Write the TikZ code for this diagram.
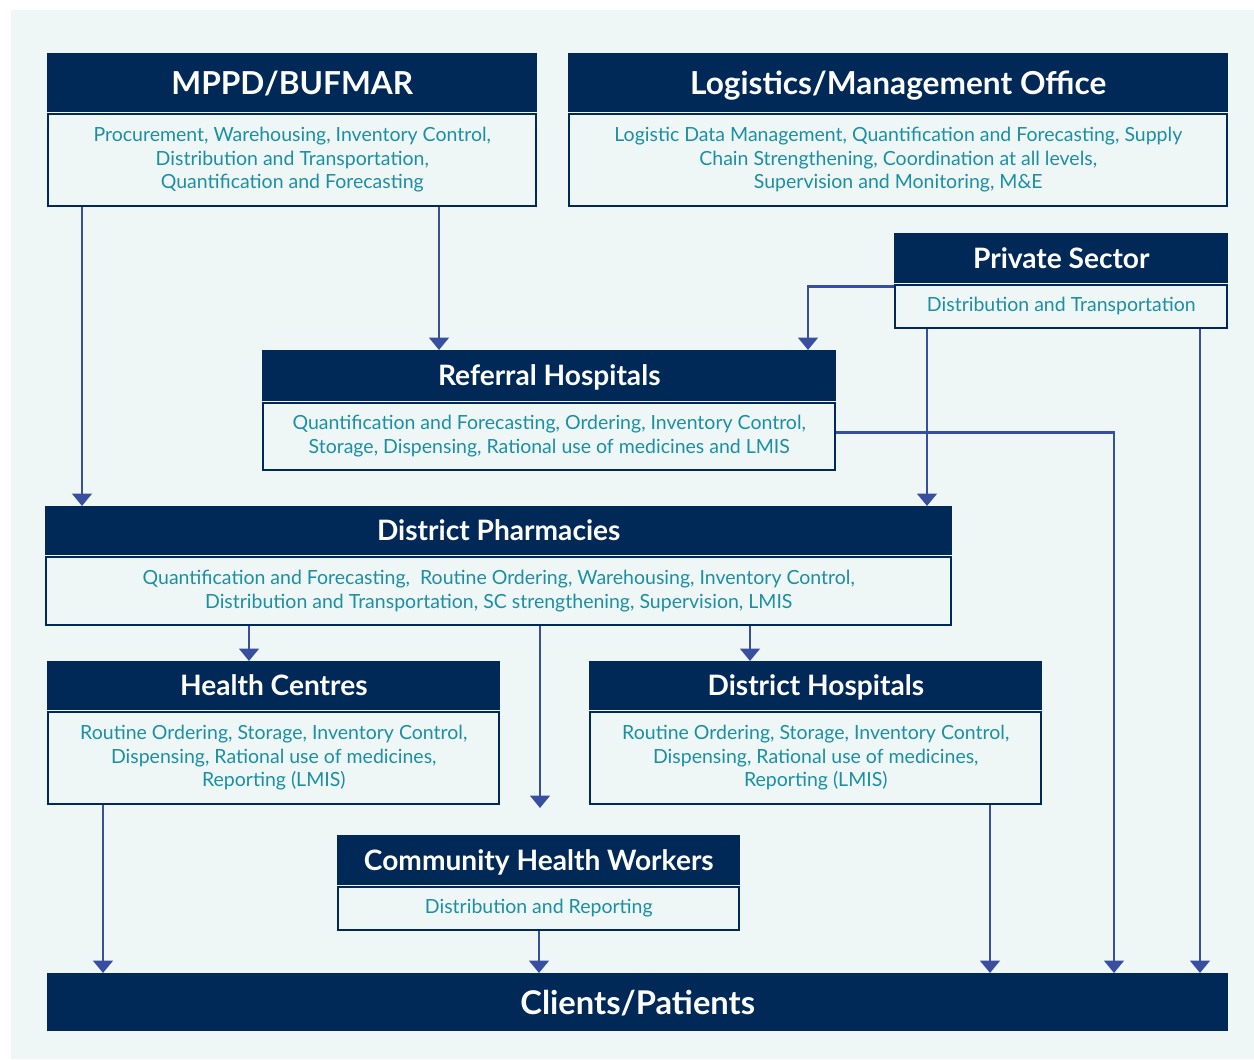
\documentclass[tikz,border=0pt]{standalone}
\usepackage{fontspec}
\setmainfont{Lato}
\usepackage{tikz}
\usetikzlibrary{positioning}
\usetikzlibrary{arrows.meta}
\definecolor{navy}{RGB}{0,41,88}
\definecolor{paper}{RGB}{238,247,246}
\definecolor{tealtext}{RGB}{28,143,163}
\definecolor{flowblue}{RGB}{56,78,158}
\tikzset{
	head node/.style={fill=navy,text=white,inner sep=0pt,text height=11.5pt,text depth=0pt,font=\bfseries\fontsize{16}{19}\selectfont},
	big head/.style={text height=13pt,font=\bfseries\fontsize{18}{22}\selectfont},
	body node/.style={draw=navy,line width=1.1pt,fill=paper,text=tealtext,inner sep=0pt,align=center,font=\fontsize{11.1}{13.6}\selectfont},
	flow/.style={draw=flowblue,line width=1.6pt,-{Triangle[width=11pt,length=7pt]}}
}

\begin{document}
\begin{tikzpicture}[x=0.02cm,y=-0.02cm]
  \useasboundingbox (0,0) rectangle (1254,1059);
  \fill[paper] (11,10) rectangle (1254,1059);

  % top level
  \node [head node,big head,anchor=north west,minimum width=9.8cm,minimum height=1.18cm] (mppd) at (47,53) {MPPD/BUFMAR};
  \node [body node,below=0pt of mppd,minimum width=9.76cm,minimum height=1.84cm] (mppd body)
        {Procurement, Warehousing, Inventory Control,\\Distribution and Transportation,\\Quantification and Forecasting};
  \node [head node,big head,anchor=north west,minimum width=13.2cm,minimum height=1.18cm] (lmo) at (568,53) {Logistics/Management Office};
  \node [body node,below=0pt of lmo,minimum width=13.16cm,minimum height=1.84cm] (lmo body)
        {Logistic Data Management, Quantification and Forecasting, Supply\\Chain Strengthening, Coordination at all levels,\\Supervision and Monitoring, M\&E};

  \node [head node,anchor=north west,minimum width=6.68cm,minimum height=1.0cm] (priv) at (894,233) {Private Sector};
  \node [body node,below=0pt of priv,minimum width=6.64cm,minimum height=0.86cm] (priv body)
        {Distribution and Transportation};

  \node [head node,anchor=north west,minimum width=11.48cm,minimum height=1.02cm] (ref) at (262,350) {Referral Hospitals};
  \node [body node,below=0pt of ref,minimum width=11.44cm,minimum height=1.34cm] (ref body)
        {Quantification and Forecasting, Ordering, Inventory Control,\\Storage, Dispensing, Rational use of medicines and LMIS};

  \node [head node,anchor=north west,minimum width=18.14cm,minimum height=0.98cm] (dp) at (45,506) {District Pharmacies};
  \node [body node,below=0pt of dp,minimum width=18.1cm,minimum height=1.36cm] (dp body)
        {Quantification and Forecasting,\ \ Routine Ordering, Warehousing, Inventory Control,\\Distribution and Transportation, SC strengthening, Supervision, LMIS};

  \node [head node,anchor=north west,minimum width=9.06cm,minimum height=0.98cm] (hc) at (47,661) {Health Centres};
  \node [body node,below=0pt of hc,minimum width=9.02cm,minimum height=1.84cm] (hc body)
        {Routine Ordering, Storage, Inventory Control,\\Dispensing, Rational use of medicines,\\Reporting (LMIS)};
  \node [head node,anchor=north west,minimum width=9.06cm,minimum height=0.98cm] (dh) at (589,661) {District Hospitals};
  \node [body node,below=0pt of dh,minimum width=9.02cm,minimum height=1.84cm] (dh body)
        {Routine Ordering, Storage, Inventory Control,\\Dispensing, Rational use of medicines,\\Reporting (LMIS)};

  \node [head node,anchor=north west,minimum width=8.06cm,minimum height=1.0cm] (chw) at (337,835) {Community Health Workers};
  \node [body node,below=0pt of chw,minimum width=8.02cm,minimum height=0.86cm] (chw body)
        {Distribution and Reporting};

  \node [head node,anchor=north west,minimum width=23.62cm,minimum height=1.16cm,text height=13.4pt,font=\bfseries\fontsize{18.6}{22}\selectfont] (clients) at (47,973) {Clients/Patients};

  \coordinate (chw gap) at (540,808);

  % flows
  \draw[flow] (82,0 |- mppd body.south) -- (82,0 |- dp.north);
  \draw[flow] (439,0 |- mppd body.south) -- (439,0 |- ref.north);
  \draw[flow] ([yshift=-0.06cm]priv body.north west) -| (808,0 |- ref.north);
  \draw[flow] (927,0 |- priv body.south) -- (927,0 |- dp.north);
  \draw[flow] (1200,0 |- priv body.south) -- (1200,0 |- clients.north);
  \draw[flow] ([yshift=0.08cm]ref body.east) -| (1114,0 |- clients.north);
  \draw[flow] (249,0 |- dp body.south) -- (249,0 |- hc.north);
  \draw[flow] (750,0 |- dp body.south) -- (750,0 |- dh.north);
  \draw[flow] (540,0 |- dp body.south) -- (chw gap);
  \draw[flow] (103,0 |- hc body.south) -- (103,0 |- clients.north);
  \draw[flow] (539,0 |- chw body.south) -- (539,0 |- clients.north);
  \draw[flow] (990,0 |- dh body.south) -- (990,0 |- clients.north);
\end{tikzpicture}
\end{document}
